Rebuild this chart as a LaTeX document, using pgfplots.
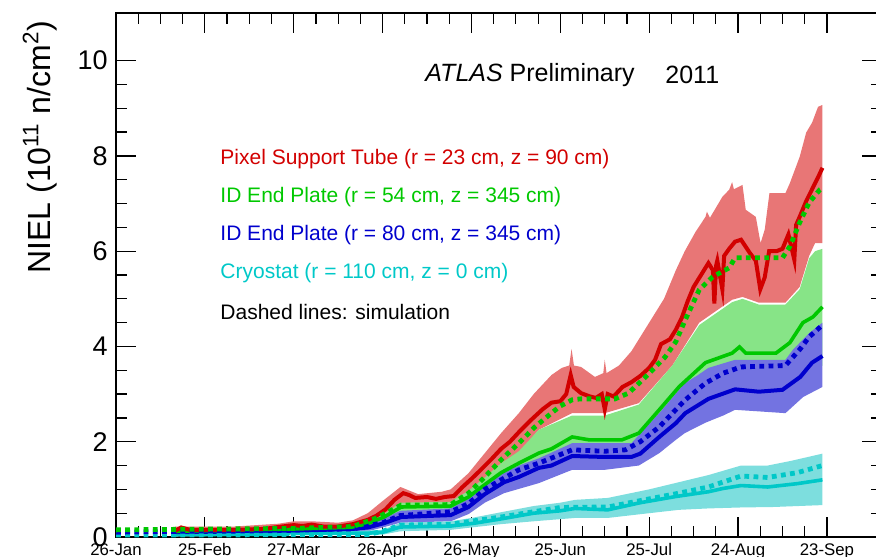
\documentclass[border=0pt]{standalone}
\usepackage{fontspec}
\setmainfont{Liberation Sans}
\usepackage{pgfplots}
\pgfplotsset{compat=1.18}
\usepgfplotslibrary{fillbetween}

\definecolor{nRed}{RGB}{210,0,0}
\definecolor{nRedBand}{RGB}{232,118,118}
\definecolor{nGreen}{RGB}{0,200,0}
\definecolor{nGreenBand}{RGB}{135,228,135}
\definecolor{nBlue}{RGB}{0,0,205}
\definecolor{nBlueBand}{RGB}{115,115,225}
\definecolor{nCyan}{RGB}{0,200,200}
\definecolor{nCyanBand}{RGB}{125,222,222}

\begin{document}
\begin{tikzpicture}
\begin{axis}[
  scale only axis, width=383pt, height=262pt,
  xmin=0, xmax=258.6, ymin=0, ymax=11,
  clip mode=individual,
  axis line style={line width=0.6pt},
  xtick={0,30,...,240},
  xticklabels={26-Jan,25-Feb,27-Mar,26-Apr,26-May,25-Jun,25-Jul,24-Aug,23-Sep},
  minor x tick num=3,
  ytick={0,2,...,10},
  minor y tick num=3,
  tick align=inside, tick pos=both,
  major tick length=10.2pt, minor tick length=5.4pt,
  every tick/.style={black, line width=0.6pt},
  x tick label style={font=\fontsize{8.4pt}{9pt}\selectfont, inner sep=0pt, yshift=-3pt},
  y tick label style={font=\fontsize{13.5pt}{15pt}\selectfont, inner sep=0pt, xshift=-4pt},
  /pgf/number format/assume math mode=true,
]
% --- uncertainty bands ---
\addplot[name path=ru, draw=none] coordinates {(20,0.22) (40,0.22) (55,0.28) (60,0.33) (66,0.33) (75,0.3) (80,0.35) (85,0.5) (90.5,0.78) (96,1.05) (102,0.9) (110,0.95) (113,1.0) (119,1.34) (124.5,1.76) (130,2.18) (136,2.6) (141,3.0) (147,3.4) (150.5,3.55) (153,3.6) (153.8,3.95) (154.6,3.6) (157,3.57) (161.7,3.36) (164.5,3.44) (165,3.72) (165.6,3.44) (169.8,3.6) (174,3.9) (178,4.3) (181,4.6) (185,5.0) (189,5.6) (192,6.0) (195.6,6.4) (199,6.72) (199.5,6.83) (200.5,6.7) (204.7,7.14) (207,7.29) (208,7.45) (208.6,7.3) (211.5,7.39) (212.6,6.87) (216,6.72) (217.6,6.17) (219,6.45) (220.6,7.22) (226,7.22) (227.5,7.43) (230.8,7.98) (233,8.49) (235,8.7) (237,9.03) (238.5,9.07)};
\addplot[name path=rl, draw=none] coordinates {(20,0.1) (60,0.14) (80,0.17) (85,0.25) (90.5,0.4) (96,0.7) (113,0.71) (119,0.95) (124.5,1.2) (130,1.5) (136,1.76) (142.7,2.25) (154,2.6) (165,2.6) (176.5,2.81) (187.8,3.6) (196.9,4.5) (208,4.98) (211.5,5.04) (217,4.92) (226,4.92) (230.8,5.25) (234,5.9) (236,6.17) (238.5,6.17)};
\addplot[nRedBand, draw=none] fill between[of=ru and rl];

\addplot[name path=gu, draw=none] coordinates {(20,0.15) (60,0.2) (80,0.22) (85,0.3) (90.5,0.48) (96,0.72) (113,0.74) (119,0.97) (124.5,1.25) (130,1.55) (136,1.8) (142.7,2.25) (154,2.55) (165,2.55) (176.5,2.78) (187.8,3.6) (196.9,4.45) (208,4.93) (211.5,5.0) (217,4.88) (226,4.88) (230.8,5.2) (234,5.85) (236,6.0) (238.5,6.05)};
\addplot[name path=gl, draw=none] coordinates {(20,0.08) (60,0.1) (85,0.15) (96,0.5) (113,0.55) (124.5,0.9) (136,1.2) (142.7,1.25) (154,1.6) (165,1.55) (176.5,1.6) (187.8,2.1) (196.9,2.6) (208,2.8) (226,2.85) (238.5,3.6)};
\addplot[nGreenBand, draw=none] fill between[of=gu and gl];

\addplot[name path=bu, draw=none] coordinates {(20,0.13) (60,0.15) (80,0.2) (85,0.25) (90,0.38) (96,0.55) (113,0.6) (119,0.8) (124.5,1.1) (131,1.35) (136,1.5) (142.7,1.65) (154,1.97) (174,1.97) (183.4,2.6) (192,3.23) (196,3.38) (200,3.55) (209,3.72) (226,3.72) (228.5,3.93) (234,4.28) (238.5,4.5)};
\addplot[name path=bl, draw=none] coordinates {(20,0.06) (60,0.08) (85,0.12) (90,0.2) (96,0.3) (113,0.33) (119,0.48) (124.5,0.72) (131,0.92) (142.7,1.13) (154,1.41) (165,1.41) (176.5,1.5) (183.4,1.76) (189,2.04) (192,2.18) (199,2.4) (205,2.55) (209,2.67) (226,2.6) (232,2.94) (238.5,3.15)};
\addplot[nBlueBand, draw=none] fill between[of=bu and bl];

\addplot[name path=cu, draw=none] coordinates {(20,0.08) (60,0.08) (90,0.15) (96,0.3) (113,0.33) (120,0.4) (130,0.52) (141,0.65) (150,0.72) (155,0.78) (166,0.82) (180,1.0) (190,1.15) (200,1.3) (211,1.5) (220,1.5) (228,1.6) (238.5,1.75)};
\addplot[name path=cl, draw=none] coordinates {(20,0.01) (90,0.05) (96,0.12) (113,0.15) (120,0.2) (130,0.27) (141,0.33) (155,0.4) (166,0.4) (180,0.5) (190,0.57) (200,0.6) (211,0.62) (222,0.63) (238.5,0.67)};
\addplot[nCyanBand, draw=none] fill between[of=cu and cl];

% --- measured NIEL ---
\addplot[nCyan, line width=1.8pt] coordinates {(20,0.05) (58,0.06) (60,0.2) (61,0.08) (85,0.08) (90,0.1) (96,0.21) (113,0.23) (121,0.29) (130,0.38) (141,0.5) (150,0.55) (155,0.6) (166,0.57) (177,0.72) (189,0.85) (200,0.95) (205,1.02) (211,1.08) (220,1.05) (230,1.12) (238.5,1.2)};
\addplot[nBlue, line width=2pt] coordinates {(20,0.1) (60,0.13) (80,0.17) (85,0.2) (90.5,0.29) (96.3,0.42) (113,0.46) (119,0.63) (124.5,0.9) (131,1.15) (136,1.26) (142.7,1.45) (147,1.5) (154,1.7) (165,1.68) (174,1.68) (177,1.75) (183.4,2.1) (189,2.39) (192.2,2.6) (200,2.9) (209,3.1) (217,3.05) (225,3.09) (231,3.36) (235,3.66) (238.5,3.8)};
\addplot[nGreen, line width=1.8pt] coordinates {(20,0.12) (60,0.17) (79,0.2) (85,0.28) (90.5,0.42) (96.3,0.63) (113,0.65) (119,0.84) (124.5,1.1) (130,1.35) (136,1.55) (142.7,1.76) (147,1.85) (154,2.1) (159.7,2.04) (170.8,2.04) (176.5,2.18) (183.4,2.67) (190.2,3.16) (199,3.66) (208,3.86) (210.5,3.99) (212.6,3.86) (222.8,3.86) (227.5,4.08) (231.9,4.5) (235.3,4.62) (238.5,4.83)};
\addplot[nRed, line width=2pt] coordinates {(20,0.13) (22,0.2) (25,0.15) (40,0.15) (50,0.17) (56,0.22) (60,0.25) (63,0.23) (66,0.26) (70,0.22) (75,0.22) (80,0.27) (85,0.36) (88,0.45) (91,0.58) (94,0.78) (97,0.92) (99,0.88) (101,0.82) (105,0.84) (108,0.8) (111,0.84) (114,0.86) (117,1.05) (120,1.22) (123,1.4) (127,1.65) (130,1.85) (133,2.0) (136,2.2) (140,2.45) (144,2.68) (147,2.82) (150,2.85) (152,3.0) (153.5,3.4) (154.5,3.15) (157,3.02) (160,2.95) (162,2.92) (164,3.0) (165,2.68) (166,3.0) (168,2.95) (171,3.15) (174,3.25) (177,3.38) (180,3.55) (182,3.72) (184,4.05) (187,4.15) (189,4.35) (191,4.6) (193,4.95) (195,5.25) (197,5.45) (198,5.55) (200,5.75) (201.5,5.6) (202,4.9) (202.6,5.7) (203,5.8) (204.7,5.2) (205.3,5.9) (207,6.05) (209,6.2) (211,6.24) (212.5,6.1) (214,5.96) (216,5.8) (217.5,5.2) (219,5.45) (220.5,6.0) (223,6.0) (225,6.05) (227,6.35) (229,5.82) (229.6,6.55) (231,6.75) (233,7.05) (235,7.3) (237,7.55) (238.5,7.75)};

% --- simulation ---
\addplot[nCyan, line width=2.4pt, dash pattern=on 2.4pt off 2.2pt] coordinates {(0,0.04) (85,0.05) (90,0.12) (96,0.25) (113,0.27) (130,0.42) (150,0.62) (166,0.63) (180,0.8) (190,0.92) (200,1.05) (211,1.28) (220,1.25) (230,1.35) (238.5,1.5)};
\addplot[nBlue, line width=2.4pt, dash pattern=on 2.4pt off 2.2pt] coordinates {(0,0.1) (80,0.17) (90,0.3) (96,0.45) (113,0.53) (119,0.7) (124.5,1.0) (130,1.2) (136,1.41) (142.7,1.55) (154,1.83) (165,1.8) (172,1.83) (177,2.0) (183.4,2.31) (192.2,2.88) (199,3.23) (205,3.44) (211,3.57) (226,3.6) (231,3.95) (234,4.2) (238.5,4.45)};
\addplot[nGreen, line width=2.4pt, dash pattern=on 2.4pt off 2.2pt] coordinates {(0,0.15) (60,0.18) (80,0.22) (88,0.4) (91,0.5) (96.3,0.67) (113,0.68) (119,0.92) (124.5,1.26) (130,1.62) (136,1.97) (141.4,2.31) (147,2.6) (150,2.75) (154,2.88) (157,2.9) (168.5,2.9) (173,3.02) (178.8,3.36) (185.4,3.78) (189,4.1) (192.2,4.56) (196.9,5.19) (201.4,5.46) (207,5.65) (209,5.86) (225,5.86) (227.5,6.1) (230.8,6.6) (234,7.02) (237.6,7.29) (238.5,7.32)};

% --- labels ---
\node[rotate=90, font=\fontsize{16pt}{18pt}\selectfont] at (axis description cs:-0.0992,0.744) {NIEL (10\textsuperscript{11} n/cm\textsuperscript{2})};
\node[anchor=west, font=\fontsize{12.5pt}{15pt}\selectfont, inner sep=0pt] at (axis description cs:0.4034,0.8817) {\textit{ATLAS} Preliminary};
\node[anchor=west, font=\fontsize{12.5pt}{15pt}\selectfont, inner sep=0pt] at (axis description cs:0.7167,0.8817) {2011};
\begin{scope}[every node/.style={anchor=west, inner sep=0pt, font=\fontsize{10.5pt}{12pt}\selectfont}]
\node[text=nRed] at (axis description cs:0.1358,0.7214) {Pixel Support Tube (r = 23 cm, z = 90 cm)};
\node[text=nGreen] at (axis description cs:0.1358,0.6489) {ID End Plate (r = 54 cm, z = 345 cm)};
\node[text=nBlue] at (axis description cs:0.1358,0.5763) {ID End Plate (r = 80 cm, z = 345 cm)};
\node[text=nCyan] at (axis description cs:0.1358,0.5038) {Cryostat (r = 110 cm, z = 0 cm)};
\node[text=black] at (axis description cs:0.1358,0.4294) {Dashed lines: simulation};
\end{scope}
\end{axis}
\pgfresetboundingbox
\path[use as bounding box] (-58pt,-9.5pt) rectangle (380pt,268.5pt);
\end{tikzpicture}
\end{document}
